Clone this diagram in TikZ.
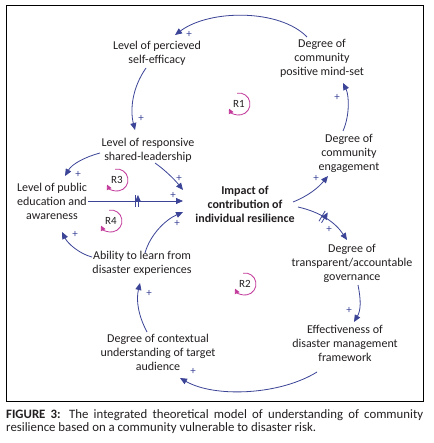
\documentclass[tikz,border=0pt]{standalone}
\usepackage{fontspec}
\setmainfont{Carlito}
\usetikzlibrary{arrows.meta,decorations.markings}
\definecolor{arrowblue}{HTML}{3B4497}
\definecolor{looppink}{HTML}{C2399B}
\definecolor{txt}{HTML}{231F20}
\tikzset{
  lbl/.style={align=center, font=\fontsize{12}{14}\selectfont, text=txt, inner sep=0pt},
  cl/.style={draw=arrowblue, line width=0.8pt, -{Triangle[length=7pt,width=6pt]}},
  plussign/.style={text=arrowblue, font=\fontsize{11}{11}\selectfont, inner sep=0pt},
  loopar/.style={draw=looppink, line width=0.8pt, -{Triangle[length=5pt,width=5pt]}},
  looplbl/.style={font=\fontsize{11}{11}\selectfont, text=txt, inner sep=0pt},
  dbar/.style={postaction={decorate, decoration={markings, mark=at position #1 with {\draw[arrowblue, line width=0.8pt] (-1.5pt,-6pt)--(-1.5pt,6pt) (1.5pt,-6pt)--(1.5pt,6pt);}}}}
}
\begin{document}
\begin{tikzpicture}[x=1pt,y=-1pt]
\fill[white] (0,0) rectangle (433,443);
\useasboundingbox (0,0) rectangle (433,443);
\draw[black, line width=0.8pt] (6,5) rectangle (423,401);

% nodes
\node[lbl] (se) at (157,53.5) {Level of percieved\\self-efficacy};
\node[lbl] (ms) at (322,58) {Degree of\\community\\positive mind-set};
\node[lbl] (sl) at (148,150) {Level of responsive\\shared-leadership};
\node[lbl] (ce) at (349,153) {Degree of\\community\\engagement};
\node[lbl] (pe) at (52,201) {Level of public\\education and\\awareness};
\node[lbl, font=\fontsize{12}{14}\selectfont\bfseries] (im) at (245,204) {Impact of\\contribution of\\individual resilience};
\node[lbl] (al) at (142,263) {Ability to learn from\\disaster experiences};
\node[lbl] (tg) at (352,263) {Degree of\\transparent/accountable\\governance};
\node[lbl] (ef) at (345,343) {Effectiveness of\\disaster management\\framework};
\node[lbl] (cu) at (158,352) {Degree of contextual\\understanding of target\\audience};

% connectors
\draw[cl] ([shift={(-15,-21)}]ms.center) .. controls (280,9) and (210,9) .. ([shift={(18,-18.5)}]se.center);
\draw[cl] ([shift={(-11,14.5)}]se.center) .. controls (132,88) and (130,110) .. ([shift={(-13,-20)}]sl.center);
\draw[cl] ([shift={(-6,-22)}]ce.center) .. controls (350,115) and (349,95) .. ([shift={(21,25)}]ms.center);
\draw[cl] ([shift={(48,-2)}]im.center) .. controls (308,196) and (318,188) .. ([shift={(-21,23)}]ce.center);
\draw[cl, dbar=0.45] ([shift={(53,3)}]im.center) .. controls (320,212) and (335,222) .. ([shift={(-5,-23)}]tg.center);
\draw[cl] ([shift={(6,22)}]tg.center) .. controls (361,300) and (361,310) .. ([shift={(9,-21)}]ef.center);
\draw[cl] ([shift={(-28,29)}]ef.center) .. controls (280,395) and (215,398) .. ([shift={(22,26)}]cu.center);
\draw[cl] ([shift={(-11,-20)}]cu.center) .. controls (138,315) and (136,300) .. ([shift={(-2,20)}]al.center);
\draw[cl] ([shift={(3,-10)}]al.center) .. controls (150,235) and (165,220) .. ([shift={(-62,8)}]im.center);
\draw[cl, dbar=0.51] ([shift={(36,0)}]pe.center) -- ([shift={(-62,-3)}]im.center);
\draw[cl] ([shift={(7,13)}]sl.center) .. controls (165,170) and (175,180) .. ([shift={(-62,-14)}]im.center);
\draw[cl] ([shift={(-48,3)}]sl.center) .. controls (85,157) and (72,164) .. ([shift={(13,-25)}]pe.center);
\draw[cl] ([shift={(-50,-6)}]al.center) .. controls (80,254) and (68,244) .. ([shift={(10,31)}]pe.center);

% plus signs
\node[plussign] (p1) at (189,34) {+};
\node[plussign] (p2) at (141,118) {+};
\node[plussign] (p3) at (337,97) {+};
\node[plussign] (p4) at (316,178) {+};
\node[plussign] (p5) at (329,229) {+};
\node[plussign] (p6) at (349,310) {+};
\node[plussign] (p7) at (193,371) {+};
\node[plussign] (p8) at (149,293) {+};
\node[plussign] (p9) at (177,223) {+};
\node[plussign] (p10) at (173,195) {+};
\node[plussign] (p11) at (179,178) {+};
\node[plussign] (p12) at (78,174) {+};
\node[plussign] (p13) at (75,234) {+};

% loops
\node[looplbl] (r1) at (239,104) {R1};
\node[looplbl] (r2) at (245,284) {R2};
\node[looplbl] (r3) at (117,180) {R3};
\node[looplbl] (r4) at (111,221) {R4};
\foreach \r in {r1,r2,r3,r4}{
  \draw[loopar] ([shift={(100:11pt)}]\r.center) arc[start angle=100, end angle=-155, radius=11pt];
}

% caption
\node[anchor=north west, inner sep=0pt, text width=417pt, align=justify, font=\fontsize{12.8}{13.2}\selectfont, text=txt] (cap) at (6,409.5) {\textbf{FIGURE 3:} The integrated theoretical model of understanding of community\linebreak resilience based on a community vulnerable to disaster risk.};
\end{tikzpicture}
\end{document}
